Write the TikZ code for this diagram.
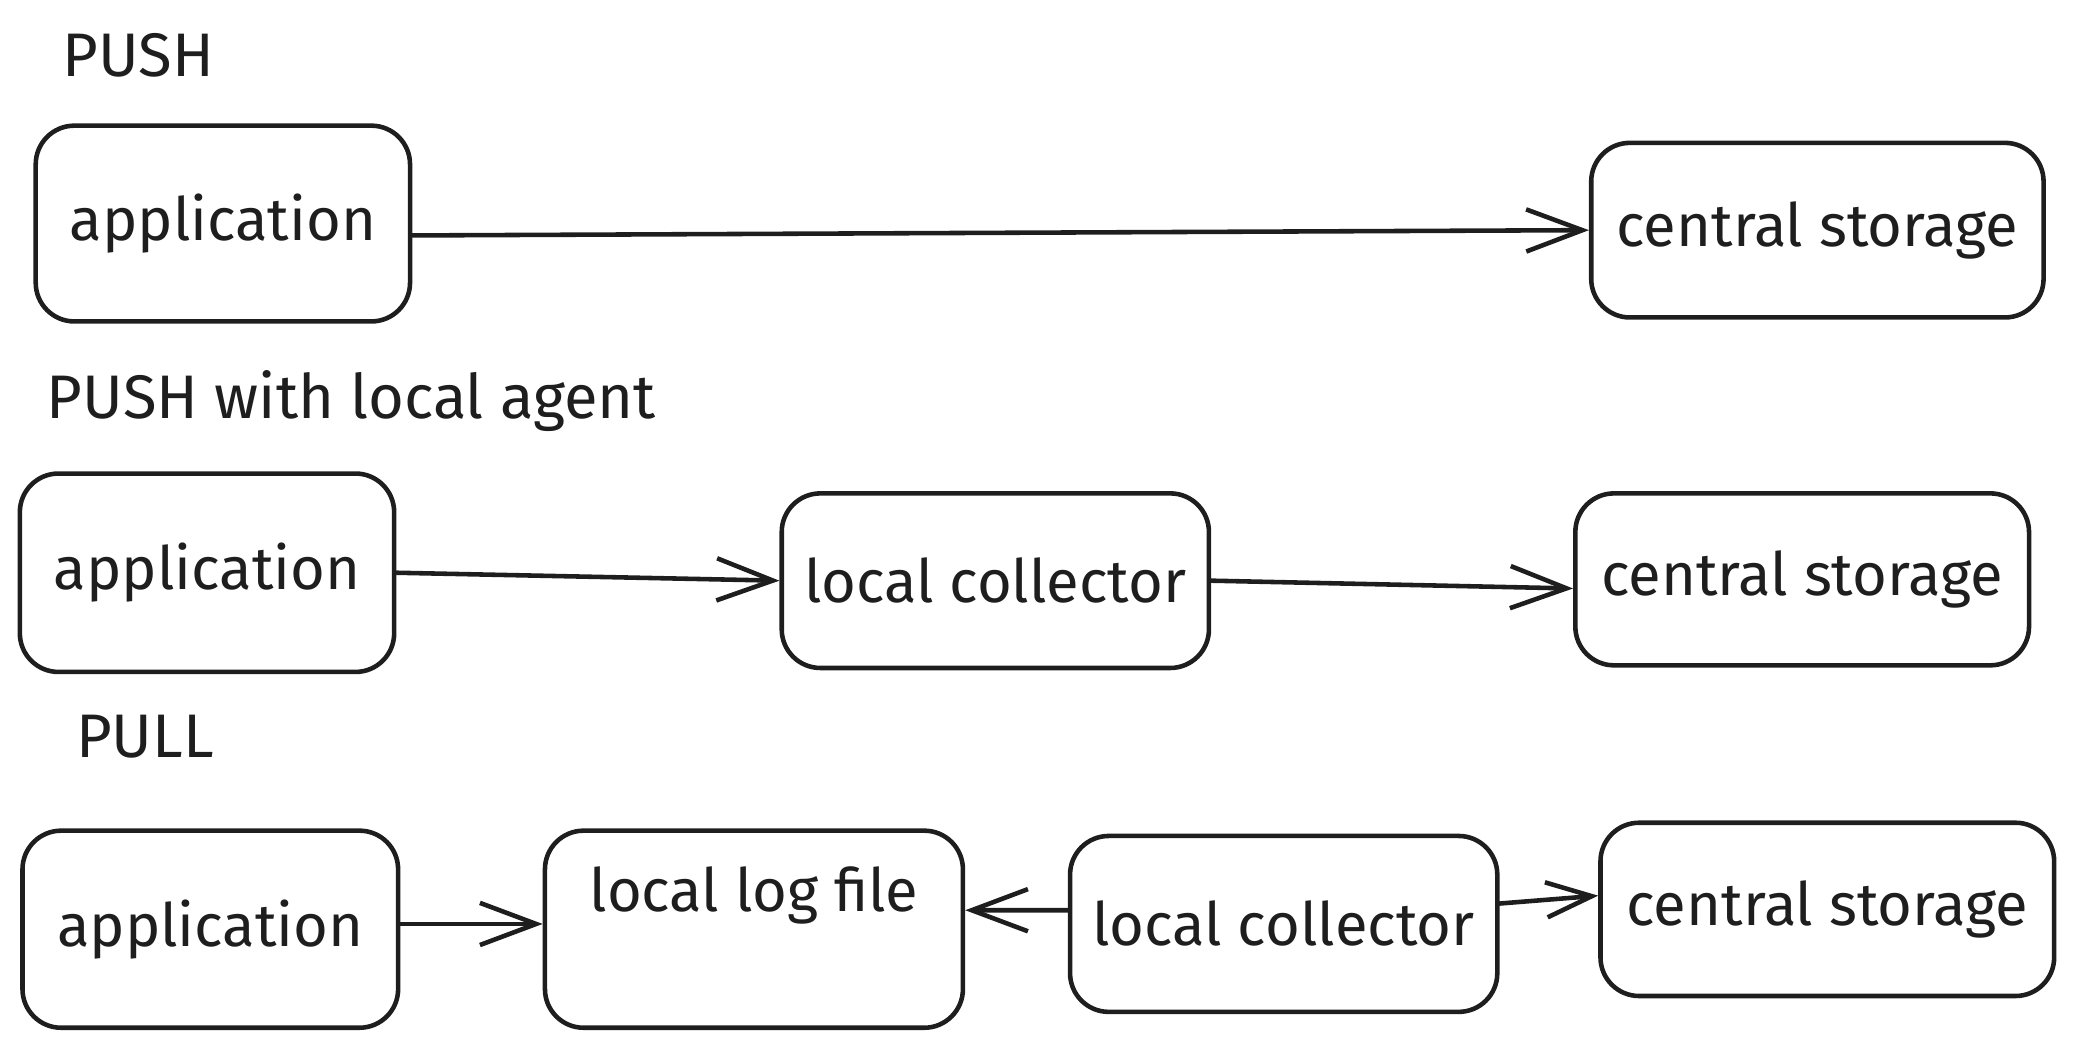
\documentclass[tikz,border=0pt]{standalone}
\usepackage{fontspec}
\setmainfont{Fira Sans}
\usepackage{tikz}
\usetikzlibrary{arrows.meta}
\definecolor{ink}{HTML}{1E1E1E}
\newcommand{\pxu}{0.013227cm}

\begin{document}
\begin{tikzpicture}[x=0.013227cm,y=-0.013227cm]
\tikzstyle{box}=[draw=ink,line width=1.3pt,rounded corners=11pt,text=ink,font=\fontsize{17}{20}\selectfont,inner sep=0pt]
\tikzstyle{title}=[text=ink,anchor=west,inner sep=0pt,font=\fontsize{17.5}{20}\selectfont]
\tikzstyle{arr}=[draw=ink,line width=1.3pt,line cap=round,-{Straight Barb[length=16pt,width=12pt,line width=1.3pt]}]
\useasboundingbox (0,0) rectangle (1568,794);
\node[title] (T1) at (47,42) {PUSH};
\node[box,minimum width=283*\pxu,minimum height=148*\pxu] (A1) at (168.5,169) {application};
\node[box,minimum width=342*\pxu,minimum height=132*\pxu] (S1) at (1374,174) {central storage};
\draw[arr] (A1.east) ++(0,9) -- (S1.west);
\node[title] (T2) at (35,303) {PUSH with local agent};
\node[box,minimum width=283*\pxu,minimum height=150*\pxu] (A2) at (156.5,433) {application};
\node[box,minimum width=323*\pxu,minimum height=132*\pxu] (L2) at (752.5,439) {local collector};
\node[box,minimum width=343*\pxu,minimum height=130*\pxu] (S2) at (1362.5,438) {central storage};
\draw[arr] (A2.east) -- (L2.west);
\draw[arr] (L2.east) -- ([yshift=-2.6pt]S2.west);
\node[title] (T3) at (57,557) {PULL};
\node[box,minimum width=284*\pxu,minimum height=149*\pxu] (A3) at (159,702.5) {application};
\node[box,minimum width=316*\pxu,minimum height=149*\pxu] (F3) at (570,702.5) {};
\node[text=ink,inner sep=0pt,font=\fontsize{17}{20}\selectfont] (F3t) at (570,677) {local log file};
\node[box,minimum width=323*\pxu,minimum height=133*\pxu] (L3) at (970.5,698.5) {local collector};
\node[box,minimum width=343*\pxu,minimum height=131*\pxu] (S3) at (1381.5,687.5) {central storage};
\draw[arr] ([yshift=1.5pt]A3.east) -- ([yshift=1.5pt]F3.west);
\draw[arr] ([yshift=3.9pt]L3.west) -- ([yshift=5.4pt]F3.east);
\draw[arr,-{Straight Barb[length=13pt,width=10pt,line width=1.3pt]}] ([yshift=5.8pt]L3.east) -- ([yshift=3.9pt]S3.west);
\end{tikzpicture}
\end{document}
